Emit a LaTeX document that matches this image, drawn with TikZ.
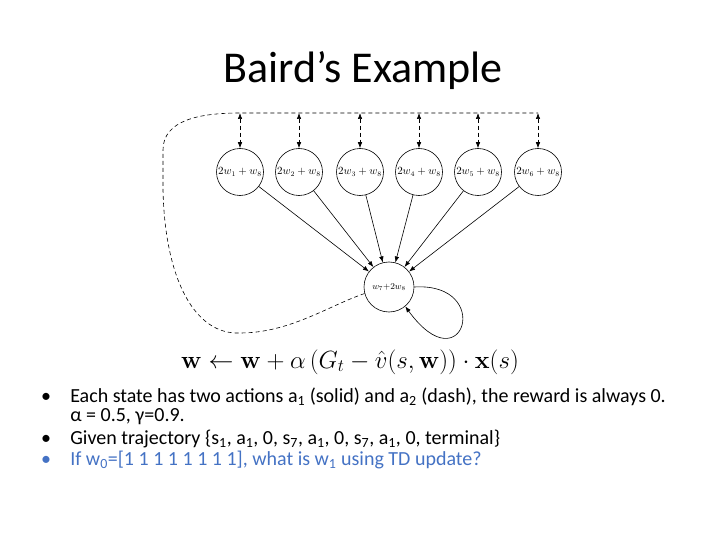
\documentclass[tikz,border=0pt]{standalone}
\usepackage{amsmath}
\usepackage[no-math]{fontspec}
\setmainfont{Carlito}
\usetikzlibrary{arrows.meta}
\definecolor{itemblue}{RGB}{68,114,196}
\newcommand{\lo}[1]{\textsubscript{#1}}
\tikzset{state/.style = {draw, circle, inner sep = 0, minimum size = 47, font = \fontsize{10.5}{12}\selectfont},
  item/.style = {anchor = base west, inner sep = 0, font = \fontsize{20}{24}\selectfont},
  dot/.style = {anchor = base, inner sep = 0, font = \fontsize{20}{24}\selectfont},
  dashline/.style = {dash pattern = on 4 off 3}}

\begin{document}
\begin{tikzpicture}[x=1pt, y=-1pt, line width=0.6pt, >={Latex[length=6, width=4.5]}]
      \useasboundingbox (0, 0) rectangle (720, 540);

      \node [font = \fontsize{44}{53}\selectfont, anchor = base] at (363, 83) (title) {Baird's Example};

      \node [state] at (240, 172) (s1) {$2w_1+w_8$};
      \node [state] at (299, 172) (s2) {$2w_2+w_8$};
      \node [state] at (360, 172) (s3) {$2w_3+w_8$};
      \node [state] at (419, 172) (s4) {$2w_4+w_8$};
      \node [state] at (478, 172) (s5) {$2w_5+w_8$};
      \node [state] at (538, 172) (s6) {$2w_6+w_8$};
      \node [state, minimum size = 50, font = \fontsize{9}{11}\selectfont] at (389, 287) (s7) {$w_7{+}2w_8$};

      \coordinate (t1) at (240, 113);
      \coordinate (t2) at (299, 113);
      \coordinate (t3) at (360, 113);
      \coordinate (t4) at (419, 113);
      \coordinate (t5) at (478, 113);
      \coordinate (t6) at (538, 113);

      \draw [->] (s1) -- (s7);
      \draw [->] (s2) -- (s7);
      \draw [->] (s3) -- (s7);
      \draw [->] (s4) -- (s7);
      \draw [->] (s5) -- (s7);
      \draw [->] (s6) -- (s7);
      \draw [->] (s7.east) .. controls +(80, -5) and +(58, 80) .. (s7.-50);

      \draw [dashline] (s7.195) .. controls (330, 305) and (290, 333) .. (240, 333)
        .. controls (195, 335) and (165, 280) .. (163, 190) -- (163, 150)
        .. controls (163, 120) and (200, 113) .. (t1) -- (t6);
      \draw [dashline, <->] (t1) -- (s1);
      \draw [dashline, <->] (t2) -- (s2);
      \draw [dashline, <->] (t3) -- (s3);
      \draw [dashline, <->] (t4) -- (s4);
      \draw [dashline, <->] (t5) -- (s5);
      \draw [dashline, <->] (t6) -- (s6);

      \node [font = \fontsize{24}{28}\selectfont] at (350, 362) (update)
        {$\mathbf{w} \leftarrow \mathbf{w} + \alpha\left(G_t - \hat{v}(s, \mathbf{w})\right) \cdot \mathbf{x}(s)$};

      % bullet list under the update rule
      \node [dot] at (46, 402) (d1) {•};
      \node [item] at (70, 402) (b1) {Each state has two actions a\lo{1} (solid) and a\lo{2} (dash), the reward is always 0.};
      \node [item] at (70, 421) (b1a) {α = 0.5, γ=0.9.};
      \node [dot] at (46, 444) (d2) {•};
      \node [item] at (70, 444) (b2) {Given trajectory \{s\lo{1}, a\lo{1}, 0, s\lo{7}, a\lo{1}, 0, s\lo{7}, a\lo{1}, 0, terminal\}};
      \node [dot, text = itemblue] at (46, 465) (d3) {•};
      \node [item, text = itemblue] at (70, 465) (b3) {If w\lo{0}=[1 1 1 1 1 1 1 1], what is w\lo{1} using TD update?};
    \end{tikzpicture}
\end{document}
